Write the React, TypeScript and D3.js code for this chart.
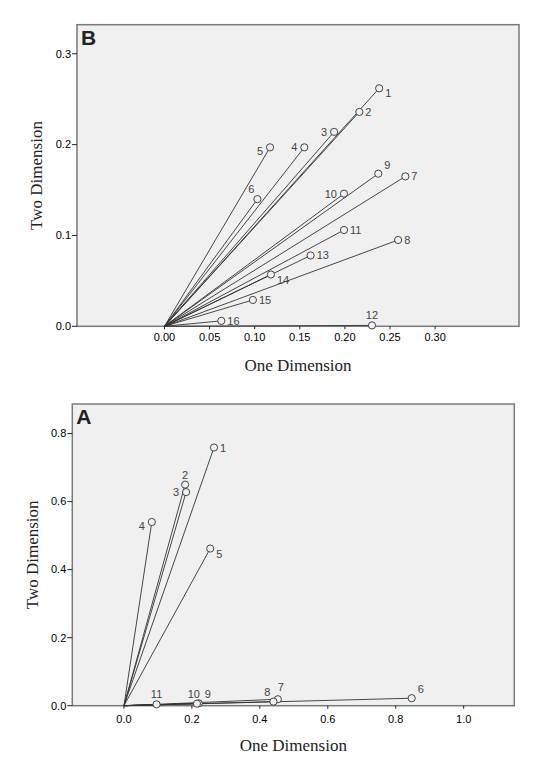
import * as d3 from "d3";

// panel B (top)
const bNames = ["1", "2", "3", "4", "5", "6", "7", "8", "9", "10", "11", "12", "13", "14", "15", "16"];
const bX = [0.238, 0.216, 0.188, 0.155, 0.117, 0.103, 0.267, 0.259, 0.237, 0.199, 0.199, 0.23, 0.162, 0.118, 0.098, 0.063];
const bY = [0.262, 0.236, 0.214, 0.197, 0.197, 0.14, 0.165, 0.095, 0.168, 0.146, 0.106, 0.001, 0.078, 0.057, 0.029, 0.006];
const bXTicks = [0, 0.05, 0.1, 0.15, 0.2, 0.25, 0.3];
const bYTicks = [0, 0.1, 0.2, 0.3];

// panel A (bottom)
const aNames = ["1", "2", "3", "4", "5", "6", "7", "8", "9", "10", "11"];
const aX = [0.265, 0.18, 0.183, 0.082, 0.254, 0.847, 0.453, 0.44, 0.22, 0.215, 0.096];
const aY = [0.759, 0.65, 0.628, 0.54, 0.462, 0.022, 0.019, 0.012, 0.007, 0.006, 0.004];
const aXTicks = [0, 0.2, 0.4, 0.6, 0.8, 1.0];
const aYTicks = [0, 0.2, 0.4, 0.6, 0.8];

// where each point label sits relative to its circle
const bLabelPos = ["br", "r", "l", "l", "bl", "al", "r", "r", "ar", "l", "r", "a", "r", "br", "r", "r"];
const aLabelPos = ["r", "a", "l", "bl", "br", "ar", "au", "al", "ar", "al2", "a"];

const offsets: Record<string, [number, number, string]> = {
  r: [6, 4, "start"],
  l: [-7, 4, "end"],
  a: [0, -6, "middle"],
  au: [3, -8, "middle"],
  ar: [6, -5, "start"],
  al: [-3, -6, "end"],
  al2: [3, -6, "end"],
  br: [6, 9, "start"],
  bl: [-7, 8, "end"],
};

const TICK_FONT = "'Liberation Sans', Arial, sans-serif";
const TITLE_FONT = "'Liberation Serif', 'Times New Roman', serif";

type PanelProps = {
  letter: string;
  names: string[];
  xs: number[];
  ys: number[];
  xTicks: number[];
  yTicks: number[];
  xDomain: [number, number];
  yDomain: [number, number];
  box: { x0: number; x1: number; y0: number; y1: number };
  xFmt: string;
  labelPos: string[];
  xLabelGap: number;
  xTitleGap: number;
  yTitleX: number;
};

const Panel = (p: PanelProps) => {
  const x = d3.scaleLinear().domain(p.xDomain).range([p.box.x0, p.box.x1]);
  const y = d3.scaleLinear().domain(p.yDomain).range([p.box.y1, p.box.y0]);
  const fx = d3.format(p.xFmt);
  const fy = d3.format(".1f");
  const { x0, x1, y0, y1 } = p.box;
  return (
    <g>
      <rect x={x0} y={y0} width={x1 - x0} height={y1 - y0} fill="#f0f0f0" stroke="#7a7a7a" strokeWidth={1.5} />
      <text x={x0 + 4} y={y0 + 20} fontFamily={TICK_FONT} fontWeight="bold" fontSize={21} fill="#222">
        {p.letter}
      </text>
      {p.yTicks.map((t) => (
        <g key={"y" + t}>
          <line x1={x0 - 5} x2={x0} y1={y(t)} y2={y(t)} stroke="#222" strokeWidth={1} />
          <text x={x0 - 6} y={y(t)} dy="0.35em" textAnchor="end" fontFamily={TICK_FONT} fontSize={11} fill="#000">
            {fy(t)}
          </text>
        </g>
      ))}
      {p.xTicks.map((t) => (
        <g key={"x" + t}>
          <line x1={x(t)} x2={x(t)} y1={y1} y2={y1 + 3} stroke="#222" strokeWidth={1} />
          <text x={x(t)} y={y1 + p.xLabelGap} dy="0.35em" textAnchor="middle" fontFamily={TICK_FONT} fontSize={11} fill="#000">
            {fx(t)}
          </text>
        </g>
      ))}
      {p.names.map((n, i) => (
        <line key={"l" + n} x1={x(0)} y1={y(0)} x2={x(p.xs[i])} y2={y(p.ys[i])} stroke="#333" strokeWidth={0.9} />
      ))}
      {p.names.map((n, i) => {
        const [dx, dy, anchor] = offsets[p.labelPos[i]];
        const cx = x(p.xs[i]);
        const cy = y(p.ys[i]);
        return (
          <g key={"p" + n}>
            <circle cx={cx} cy={cy} r={3.6} fill="#f0f0f0" stroke="#333" strokeWidth={0.9} />
            <text x={cx + dx} y={cy + dy} textAnchor={anchor} fontFamily={TICK_FONT} fontSize={11} fill="#444">
              {n}
            </text>
          </g>
        );
      })}
      <text
        x={(x0 + x1) / 2}
        y={y1 + p.xTitleGap}
        textAnchor="middle"
        fontFamily={TITLE_FONT}
        fontSize={17}
        fill="#222"
      >
        One Dimension
      </text>
      <text
        transform={`translate(${p.yTitleX},${(y0 + y1) / 2}) rotate(-90)`}
        textAnchor="middle"
        dy="0.35em"
        fontFamily={TITLE_FONT}
        fontSize={17}
        fill="#222"
      >
        Two Dimension
      </text>
    </g>
  );
};

export default function App() {
  return (
    <svg width={550} height={774} style={{ position: "absolute", left: 0, top: 0, background: "#fff" }}>
      <Panel
        letter="B"
        names={bNames}
        xs={bX}
        ys={bY}
        xTicks={bXTicks}
        yTicks={bYTicks}
        xDomain={[-0.097, 0.393]}
        yDomain={[0, 0.332]}
        box={{ x0: 77, x1: 519, y0: 24.7, y1: 326.3 }}
        xFmt=".2f"
        labelPos={bLabelPos}
        xLabelGap={10.5}
        xTitleGap={45}
        yTitleX={36}
      />
      <Panel
        letter="A"
        names={aNames}
        xs={aX}
        ys={aY}
        xTicks={aXTicks}
        yTicks={aYTicks}
        xDomain={[-0.152, 1.149]}
        yDomain={[0, 0.887]}
        box={{ x0: 72.3, x1: 514.3, y0: 404, y1: 705.7 }}
        xFmt=".1f"
        labelPos={aLabelPos}
        xLabelGap={13.5}
        xTitleGap={45}
        yTitleX={32}
      />
    </svg>
  );
}
